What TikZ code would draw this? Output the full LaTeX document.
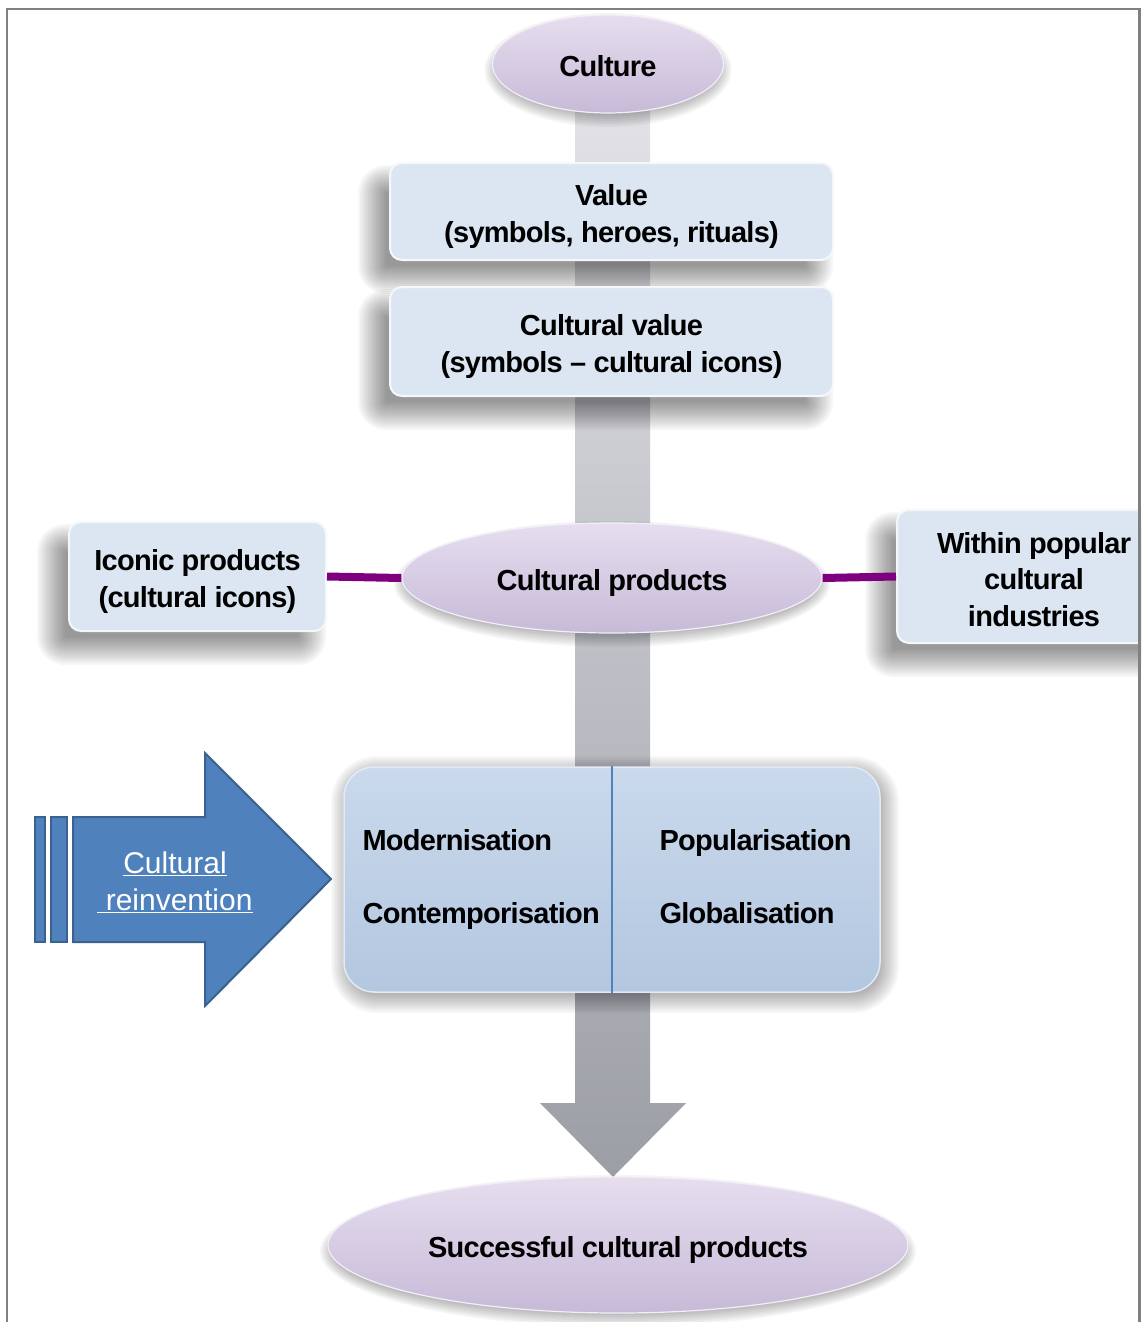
\documentclass[tikz,border=0pt]{standalone}
\usepackage{fontspec}
\setmainfont{Liberation Sans}
\newfontfamily\lblfont{Liberation Sans}[LetterSpace=-2.5]
\usetikzlibrary{shapes.geometric}

\definecolor{lavtop}{HTML}{E6DEEF}
\definecolor{lavbot}{HTML}{C7BAD8}
\definecolor{cardfill}{HTML}{DCE6F2}
\definecolor{boxtop}{HTML}{CAD9EC}
\definecolor{boxbot}{HTML}{B3C7E0}
\definecolor{stemtop}{HTML}{E2E2E6}
\definecolor{stembot}{HTML}{9C9EA6}
\definecolor{linkpurple}{HTML}{7F007F}
\definecolor{arrowblue}{HTML}{4F81BD}
\definecolor{arrowedge}{HTML}{3A628F}
\definecolor{framegray}{HTML}{808080}

% soft drop shadow of a rounded card: #1,#2 top left, #3,#4 bottom right,
% #5 corner radius, #6,#7 offset of the shadow
\newcommand\cardshadow[7]{%
  \foreach \e in {16,14,...,-12}{%
    \fill[black, opacity=0.033, rounded corners={max(#5+\e,1)}]
      (#1+#6-\e, #2+#7-\e) rectangle (#3+#6+\e, #4+#7+\e);}}
% soft shadow under an ellipse: centre #1,#2, radii #3,#4, drop #5
\newcommand\pillshadow[5]{%
  \foreach \e in {8,6,...,-4}{%
    \fill[black, opacity=0.04] (#1, #2+#5) ellipse ({#3+\e} and {#4+\e});}}

\begin{document}
\begin{tikzpicture}[x=1pt,y=-1pt,
  lbl/.style={font=\lblfont\fontsize{29}{36.5}\selectfont\bfseries, text=black,
    align=center, yshift=-5pt},
  pill/.style={ellipse, inner sep=0pt, shading=axis, top color=lavtop,
    bottom color=lavbot, draw=white!50!lavtop, line width=1.2pt},
  card/.style={rectangle, rounded corners=12pt, inner sep=0pt, fill=cardfill,
    draw=white!70!cardfill, line width=2pt},
  bigbox/.style={rectangle, rounded corners=30pt, inner sep=0pt, shading=axis,
    top color=boxtop, bottom color=boxbot, draw=white!45!boxtop, line width=1.5pt},
  link/.style={draw=linkpurple, line width=8pt},
  item/.style={font=\lblfont\fontsize{29}{36.5}\selectfont\bfseries, text=black,
    anchor=base west}
]
\useasboundingbox (0,0) rectangle (1141,1322);
\clip (0,0) rectangle (1141,1322);
\fill[white] (0,0) rectangle (1141,1322);

% central grey stem ending in a downward arrow head
\shade[shading=axis, top color=stemtop, bottom color=stembot]
  (575,110) -- (650,110) -- (650,1103) -- (686,1103) -- (613,1177)
  -- (540,1103) -- (575,1103) -- cycle;

% shadows
\pillshadow{608}{64}{115.5}{49}{6}
\cardshadow{390}{163}{833}{260}{12}{-16}{18}
\cardshadow{390}{287}{833}{396}{12}{-16}{18}
\cardshadow{69}{522}{326}{631}{12}{-16}{18}
\cardshadow{897}{510}{1171}{643}{12}{-16}{18}
\pillshadow{612}{578}{210}{55}{6}
\cardshadow{344}{767}{880}{992}{30}{3}{5}
\pillshadow{618}{1245}{290}{68}{6}

% main chain
\node[pill, minimum width=231pt, minimum height=98pt] (culture) at (608,64) {};
\node[lbl, yshift=3pt] (culture-t) at (culture.center) {Culture};
\node[card, minimum width=443pt, minimum height=97pt] (value) at (611.5,211.5) {};
\node[lbl] (value-t) at (value.center) {Value\\(symbols, heroes, rituals)};
\node[card, minimum width=443pt, minimum height=109pt] (cvalue) at (611.5,341.5) {};
\node[lbl] (cvalue-t) at (cvalue.center) {Cultural value\\(symbols \textendash{} cultural icons)};
\node[pill, minimum width=420pt, minimum height=110pt] (products) at (612,578) {};
\node[lbl] (products-t) at (products.center) {Cultural products};

% side boxes
\node[card, minimum width=257pt, minimum height=109pt] (iconic) at (197.5,576.5) {};
\node[lbl] (iconic-t) at (iconic.center) {Iconic products\\(cultural icons)};
\node[card, minimum width=274pt, minimum height=133pt] (popular) at (1034,576.5) {};
\node[lbl, yshift=2pt] (popular-t) at (popular.center) {Within popular\\cultural\\industries};
\draw[link] (iconic.east) -- (products.west);
\draw[link] (products.east) -- (popular.west);

% process box
\node[bigbox, minimum width=536pt, minimum height=225pt] (process) at (612,879.5) {};
\draw[arrowblue, line width=2pt] (process.north) -- (process.south);
\node[item] (modern) at (359,850.5) {Modernisation};
\node[item] (contemp) at (359,923.5) {Contemporisation};
\node[item] (popul) at (656,850.5) {Popularisation};
\node[item] (global) at (656,923.5) {Globalisation};

% striped block arrow
\begin{scope}[fill=arrowblue, draw=arrowedge, line width=2pt]
  \filldraw (35,817) rectangle (45,942);
  \filldraw (51,817) rectangle (67,942);
  \filldraw (73,817) -- (205,817) -- (205,753) -- (331,879) -- (205,1006)
    -- (205,942) -- (73,942) -- cycle;
\end{scope}
\node[font=\fontsize{30}{37}\selectfont, text=white, align=center] (reinvent) at (175,882)
  {\underline{Cultural}\\\underline{\ reinvention}};

% outcome
\node[pill, minimum width=580pt, minimum height=136pt] (success) at (618,1245) {};
\node[lbl] (success-t) at (success.center) {Successful cultural products};

% frame
\draw[framegray, line width=2.5pt] (7,1330) -- (7,9) -- (1139.5,9) -- (1139.5,1330);
\end{tikzpicture}
\end{document}
